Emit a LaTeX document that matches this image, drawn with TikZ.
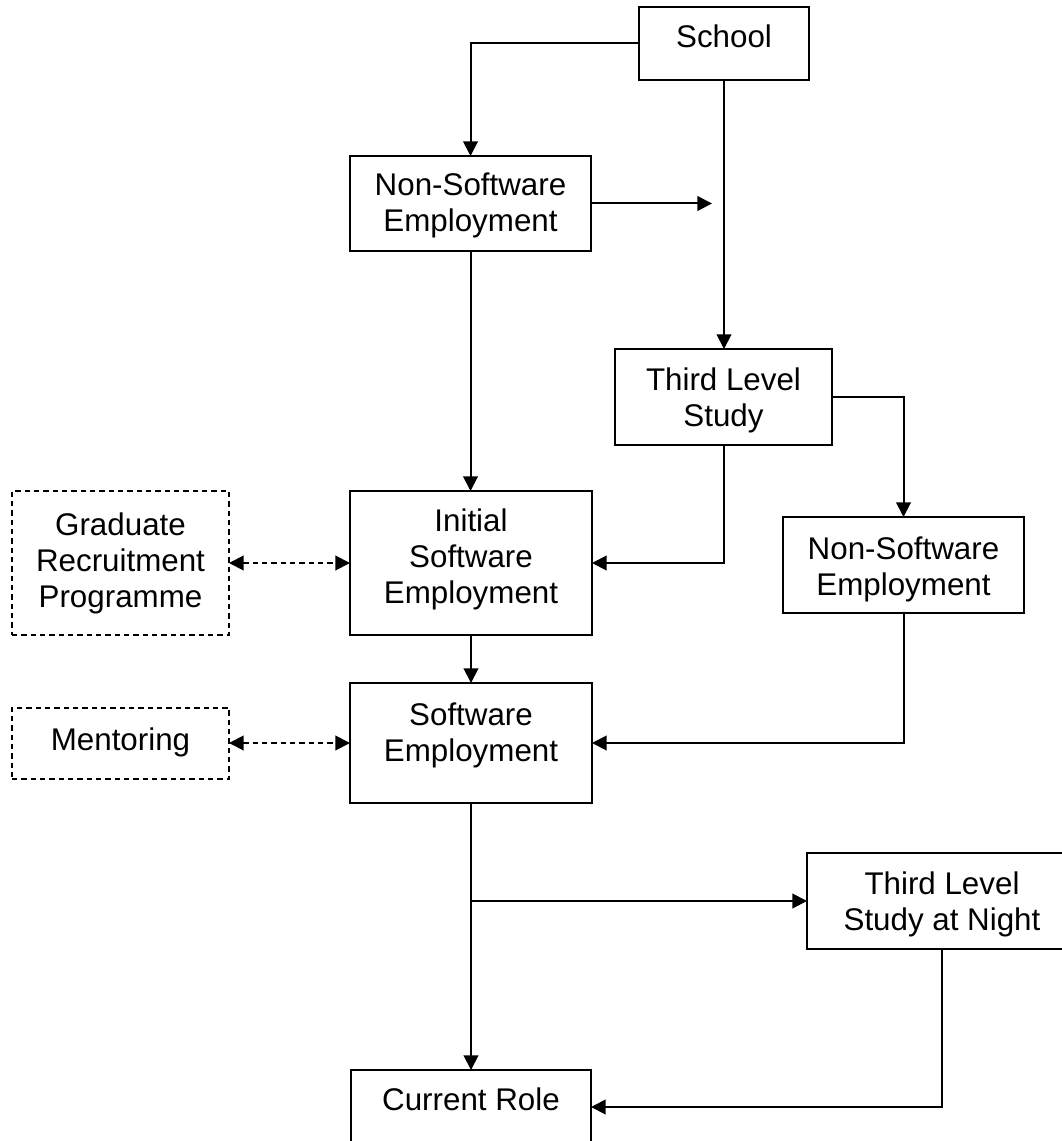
\documentclass[tikz,border=0pt]{standalone}
\usepackage{fontspec}
\setmainfont{Liberation Sans}
\usetikzlibrary{arrows.meta,calc}
\begin{document}
\begin{tikzpicture}[x=0.75pt,y=-0.75pt,
  box/.style={draw=black, line width=1.5pt, inner sep=0pt, outer sep=0pt, rectangle},
  sz/.style 2 args={minimum width=#1*0.75pt, minimum height=#2*0.75pt},
  dbox/.style={box, dash pattern=on 4pt off 3pt},
  txt/.style={inner sep=0pt, outer sep=0pt, align=center, font=\fontsize{23.5}{27}\selectfont, anchor=north},
  conn/.style={line width=1.5pt, -{Triangle[length=11pt,width=11pt]}},
  dconn/.style={line width=1.5pt, dash pattern=on 4pt off 3pt, {Triangle[length=11pt,width=11pt]}-{Triangle[length=11pt,width=11pt]}}]
\useasboundingbox (0,0) rectangle (1062,1141);
\fill[white] (0,0) rectangle (1062,1141);

% boxes
\node[box, sz={170}{73}]  (school) at (724,43.5) {};
\node[box, sz={241}{95}]  (ns1)    at (470.5,203.5) {};
\node[box, sz={217}{96}]  (tls)    at (723.5,397) {};
\node[box, sz={242}{144}] (init)   at (471,563) {};
\node[dbox, sz={217}{144}] (grp)   at (120.5,563) {};
\node[box, sz={241}{96}]  (ns2)    at (903.5,565) {};
\node[box, sz={242}{120}] (sw)     at (471,743) {};
\node[dbox, sz={217}{71}] (ment)   at (120.5,743) {};
\node[box, sz={270}{96}]  (night)  at (942,901) {};
\node[box, sz={240}{74}]  (cur)    at (471,1107) {};

% texts
\node[txt] (school-t) at ([yshift=-13.5pt]school.north) {School};
\node[txt] (ns1-t)    at ([yshift=-12.75pt]ns1.north) {Non-Software\\Employment};
\node[txt] (tls-t)    at ([yshift=-14.25pt]tls.north) {Third Level\\Study};
\node[txt] (init-t)   at ([yshift=-13.5pt]init.north) {Initial\\Software\\Employment};
\node[txt] (grp-t)    at ([yshift=-16pt]grp.north) {Graduate\\Recruitment\\Programme};
\node[txt] (ns2-t)    at ([yshift=-15pt]ns2.north) {Non-Software\\Employment};
\node[txt] (sw-t)     at ([yshift=-15pt]sw.north) {Software\\Employment};
\node[txt] (ment-t)   at ([yshift=-15pt]ment.north) {Mentoring};
\node[txt] (night-t)  at ([yshift=-14.25pt]night.north) {Third Level\\Study at Night};
\node[txt] (cur-t)    at ([yshift=-13.5pt]cur.north) {Current Role};

% connectors
\coordinate (c1) at (712,203.5);
\coordinate (br) at (sw.south |- night.west);
\draw[conn] (school.west) -| (ns1.north);
\draw[conn] (school.south) -- (school.south |- tls.north);
\draw[conn] (ns1.east) -- (c1);
\draw[conn] (ns1.south) -- (ns1.south |- init.north);
\draw[conn] (tls.south) |- (init.east);
\draw[conn] (tls.east) -| (ns2.north);
\draw[dconn] (grp.east) -- (init.west);
\draw[conn] (init.south) -- (sw.north);
\draw[conn] (ns2.south) |- (sw.east);
\draw[dconn] (ment.east) -- (sw.west);
\draw[conn] (sw.south) -- (cur.north);
\draw[conn] (br) -- (night.west);
\draw[conn] (night.south) |- (cur.east);
\end{tikzpicture}
\end{document}
